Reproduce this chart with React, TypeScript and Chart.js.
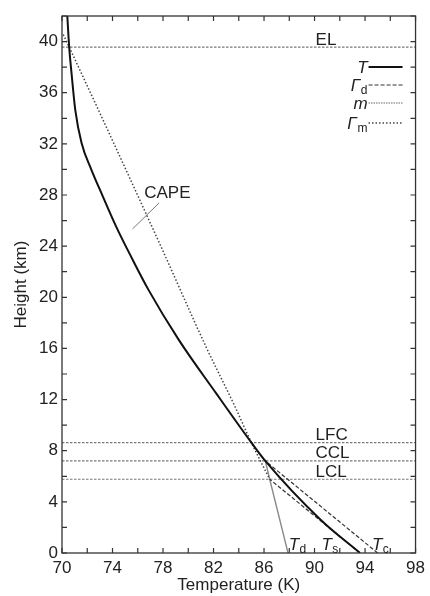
import React, { useEffect, useRef } from 'react';
import { Chart, registerables } from 'chart.js';

Chart.register(...registerables);

// ---- data ----
const envTempK = [70.42, 70.57, 70.78, 71.05, 71.55, 72.33, 73.24, 74.29, 75.47, 76.85, 79.25, 82.2, 85.0, 86.1, 90.5, 93.6];
const envHeightKm = [42, 39.57, 37.27, 34.66, 32.06, 29.97, 27.88, 25.53, 23.18, 20.58, 16.67, 12.5, 8.63, 7.2, 2.58, 0];

const moistTempK = [70.1, 70.57, 77.6, 81.4, 83.7, 85.0, 86.45];
const moistHeightKm = [40.55, 39.57, 24.49, 16.14, 11.45, 8.63, 5.77];

const dryFromSurfaceTempK = [93.6, 86.45];
const dryFromSurfaceHeightKm = [0, 5.77];
const dryFromConvTempK = [95.0, 86.1];
const dryFromConvHeightKm = [0, 7.2];

const mixingTempK = [87.9, 86.45, 86.1];
const mixingHeightKm = [0, 5.77, 7.2];

const levelNames = ['EL', 'LFC', 'CCL', 'LCL'];
const levelHeightsKm = [39.57, 8.63, 7.2, 5.77];

const capePointerTempK = [75.59, 77.69];
const capePointerHeightKm = [25.35, 27.38];

const bottomLabelMain = ['T', 'T', 'T'];
const bottomLabelSub = ['d', 's', 'c'];
const bottomLabelTempK = [87.95, 90.55, 94.55];

const legendMain = ['T', 'Γ', 'm', 'Γ'];
const legendSub = ['', 'd', '', 'm'];

const xMin = 70;
const xMax = 98;
const yMin = 0;
const yMax = 42;

const FONT = '"Liberation Sans", Arial, Helvetica, sans-serif';
const TEXT = '#222';

const pts = (xs: number[], ys: number[]) => xs.map((v, i) => ({ x: v, y: ys[i] }));

const legendStyles = [
  { color: '#111', width: 2, dash: [] as number[] },
  { color: '#333', width: 1.2, dash: [4, 2] },
  { color: '#9a9a9a', width: 1.3, dash: [1.5, 1] },
  { color: '#444', width: 1.5, dash: [1.5, 2] },
];

function drawSubText(ctx: CanvasRenderingContext2D, main: string, sub: string, x: number, y: number, align: 'left' | 'right') {
  ctx.font = `italic 17px ${FONT}`;
  const wMain = ctx.measureText(main).width;
  ctx.font = `12px ${FONT}`;
  const wSub = sub ? ctx.measureText(sub).width + 0.5 : 0;
  const start = align === 'left' ? x : x - wMain - wSub;
  ctx.textAlign = 'left';
  ctx.font = `italic 17px ${FONT}`;
  ctx.fillText(main, start, y);
  if (sub) {
    ctx.font = `12px ${FONT}`;
    ctx.fillText(sub, start + wMain + 0.5, y + 3);
  }
}

const overlayPlugin = {
  id: 'overlay',
  afterDatasetsDraw(chart: any) {
    const { ctx, chartArea: a, scales } = chart;
    const x = scales.x;
    const y = scales.y;
    ctx.save();

    // frame
    ctx.strokeStyle = '#333';
    ctx.lineWidth = 1.3;
    ctx.setLineDash([]);
    ctx.strokeRect(a.left, a.top, a.right - a.left, a.bottom - a.top);

    // inward ticks on all four sides
    ctx.lineWidth = 1.2;
    ctx.beginPath();
    x.ticks.forEach((t: any) => {
      const px = x.getPixelForValue(t.value);
      ctx.moveTo(px, a.bottom);
      ctx.lineTo(px, a.bottom - 5);
      ctx.moveTo(px, a.top);
      ctx.lineTo(px, a.top + 5);
    });
    y.ticks.forEach((t: any) => {
      const py = y.getPixelForValue(t.value);
      ctx.moveTo(a.left, py);
      ctx.lineTo(a.left + 5, py);
      ctx.moveTo(a.right, py);
      ctx.lineTo(a.right - 5, py);
    });
    ctx.stroke();

    ctx.fillStyle = TEXT;
    ctx.textBaseline = 'alphabetic';

    // level labels
    ctx.font = `17px ${FONT}`;
    ctx.textAlign = 'left';
    levelNames.forEach((name, i) => {
      ctx.fillText(name, x.getPixelForValue(90.08), y.getPixelForValue(levelHeightsKm[i]) - 2.5);
    });

    // CAPE label
    ctx.fillText('CAPE', x.getPixelForValue(76.51), y.getPixelForValue(27.78));

    // bottom labels Td, Ts, Tc
    bottomLabelMain.forEach((m, i) => {
      drawSubText(ctx, m, bottomLabelSub[i], x.getPixelForValue(bottomLabelTempK[i]), a.bottom - 3, 'left');
    });

    // legend
    const rowOffsets = [51, 69, 87, 107];
    legendMain.forEach((m, i) => {
      const cy = a.top + rowOffsets[i];
      const st = legendStyles[i];
      ctx.fillStyle = TEXT;
      drawSubText(ctx, m, legendSub[i], a.right - 48, cy + 6, 'right');
      ctx.strokeStyle = st.color;
      ctx.lineWidth = st.width;
      ctx.setLineDash(st.dash);
      ctx.beginPath();
      ctx.moveTo(a.right - 47, cy);
      ctx.lineTo(a.right - 13, cy);
      ctx.stroke();
    });

    ctx.restore();
  },
};

export default function App() {
  const canvasRef = useRef<HTMLCanvasElement | null>(null);

  useEffect(() => {
    if (!canvasRef.current) return;
    const levelDatasets = levelHeightsKm.map((h, i) => ({
      label: levelNames[i],
      data: [{ x: xMin, y: h }, { x: xMax, y: h }],
      showLine: true,
      borderColor: '#777',
      borderWidth: 1.2,
      borderDash: [2.5, 1.5],
      pointRadius: 0,
      fill: false,
    }));

    const chart = new Chart(canvasRef.current, {
      type: 'scatter',
      data: {
        datasets: [
          {
            label: 'T',
            data: pts(envTempK, envHeightKm),
            showLine: true,
            borderColor: '#111',
            borderWidth: 2,
            cubicInterpolationMode: 'monotone',
            pointRadius: 0,
          },
          {
            label: 'Γm',
            data: pts(moistTempK, moistHeightKm),
            showLine: true,
            borderColor: '#444',
            borderWidth: 1.5,
            borderDash: [1.5, 2],
            cubicInterpolationMode: 'monotone',
            pointRadius: 0,
          },
          {
            label: 'Γd surface',
            data: pts(dryFromSurfaceTempK, dryFromSurfaceHeightKm),
            showLine: true,
            borderColor: '#333',
            borderWidth: 1.2,
            borderDash: [4, 2],
            pointRadius: 0,
          },
          {
            label: 'Γd convective',
            data: pts(dryFromConvTempK, dryFromConvHeightKm),
            showLine: true,
            borderColor: '#333',
            borderWidth: 1.2,
            borderDash: [4, 2],
            pointRadius: 0,
          },
          {
            label: 'm',
            data: pts(mixingTempK, mixingHeightKm),
            showLine: true,
            borderColor: '#8a8a8a',
            borderWidth: 1.4,
            pointRadius: 0,
          },
          {
            label: 'CAPE pointer',
            data: pts(capePointerTempK, capePointerHeightKm),
            showLine: true,
            borderColor: '#777',
            borderWidth: 1,
            pointRadius: 0,
          },
          ...levelDatasets,
        ],
      },
      options: {
        animation: false,
        responsive: false,
        layout: { padding: { top: 16, right: 11, left: 0, bottom: 0 } },
        plugins: {
          legend: { display: false },
          tooltip: { enabled: false },
        },
        scales: {
          x: {
            type: 'linear',
            min: xMin,
            max: xMax,
            grid: { display: false, drawTicks: false },
            border: { display: false },
            ticks: {
              stepSize: 2,
              autoSkip: false,
              maxRotation: 0,
              padding: 5,
              color: TEXT,
              font: { family: FONT, size: 17 },
              callback: (v: any) => ((Number(v) - xMin) % 4 === 0 ? String(v) : ''),
            },
            title: {
              display: true,
              text: 'Temperature (K)',
              color: TEXT,
              font: { family: FONT, size: 17 },
              padding: { top: 0, bottom: 0 },
            },
            afterFit: (s: any) => {
              s.height = 43;
            },
          },
          y: {
            type: 'linear',
            min: yMin,
            max: yMax,
            grid: { display: false, drawTicks: false },
            border: { display: false },
            ticks: {
              stepSize: 2,
              autoSkip: false,
              padding: 4,
              color: TEXT,
              font: { family: FONT, size: 17 },
              callback: (v: any) => (Number(v) % 4 === 0 && Number(v) <= 40 ? String(v) : ''),
            },
            title: {
              display: true,
              text: 'Height (km)',
              color: TEXT,
              font: { family: FONT, size: 17 },
              padding: { top: 11, bottom: 0 },
            },
            afterFit: (s: any) => {
              s.width = 62;
            },
          },
        },
      },
      plugins: [overlayPlugin],
    });
    return () => chart.destroy();
  }, []);

  return (
    <div style={{ position: 'fixed', left: 0, top: 0, width: 430, height: 596, background: '#fff' }}>
      <canvas ref={canvasRef} width={430} height={596} style={{ display: 'block' }} />
    </div>
  );
}
